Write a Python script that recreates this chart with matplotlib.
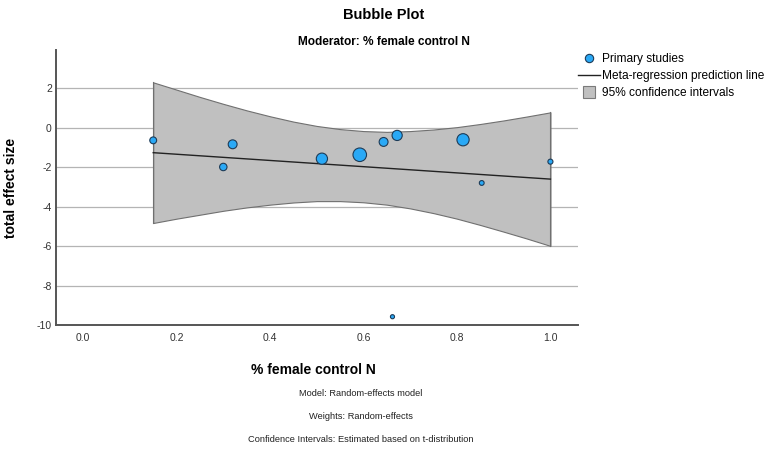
import numpy as np
import matplotlib
matplotlib.use('Agg')
import matplotlib.pyplot as plt
from matplotlib.lines import Line2D

plt.rcParams['font.family'] = ['Liberation Sans', 'DejaVu Sans']
plt.rcParams['axes.unicode_minus'] = False

# primary studies: moderator, effect size, relative weight (%)
female_ratio = [0.15, 0.30, 0.32, 0.511, 0.592, 0.643, 0.672, 0.813, 0.853, 1.0, 0.662]
effect_size = [-0.64, -1.99, -0.84, -1.57, -1.37, -0.72, -0.39, -0.61, -2.80, -1.72, -9.58]
weight_pct = [5.3, 6.2, 8.9, 14.2, 20.7, 8.9, 11.7, 16.8, 2.6, 2.9, 1.9]

# prediction line and confidence band
band_x = [0.15, 0.20, 0.25, 0.30, 0.35, 0.40, 0.45, 0.50, 0.55, 0.60,
          0.65, 0.70, 0.75, 0.80, 0.85, 0.90, 0.95, 1.00]
band_upper = [2.30, 1.93, 1.56, 1.21, 0.88, 0.58, 0.31, 0.09, -0.07, -0.17,
              -0.21, -0.17, -0.09, 0.03, 0.19, 0.37, 0.57, 0.78]
band_lower = [-4.83, -4.61, -4.41, -4.21, -4.04, -3.90, -3.79, -3.72, -3.72, -3.78,
              -3.90, -4.09, -4.33, -4.61, -4.93, -5.27, -5.62, -5.99]
line_x = [0.15, 1.0]
line_y = [-1.265, -2.605]

x_ticks = [0.0, 0.2, 0.4, 0.6, 0.8, 1.0]
y_ticks = [2, 0, -2, -4, -6, -8, -10]

bubble_color = '#2aa9f6'
bubble_edge = '#1d3b57'

fig = plt.figure(figsize=(7.67, 4.53), dpi=100)
ax = fig.add_axes([56 / 767, 1 - 325 / 453, (578 - 56) / 767, (325 - 50) / 453])

for y in y_ticks[:-1]:
    ax.axhline(y, color='#b4b4b4', lw=0.9, zorder=0)

ax.fill_between(band_x, band_lower, band_upper, facecolor='#c0c0c0',
                edgecolor='#707070', lw=0.8, zorder=1)
ax.plot([band_x[0], band_x[0]], [band_lower[0], band_upper[0]], color='#707070', lw=0.8, zorder=1)
ax.plot([band_x[-1], band_x[-1]], [band_lower[-1], band_upper[-1]], color='#707070', lw=0.8, zorder=1)
ax.plot(line_x, line_y, color='#222222', lw=1.0, zorder=2)

sizes = np.array(weight_pct) * 4.6
ax.scatter(female_ratio, effect_size, s=sizes, color=bubble_color,
           edgecolors=bubble_edge, linewidths=0.8, zorder=3)

ax.set_xlim(-0.058, 1.059)
ax.set_ylim(-10, 3.94)
ax.set_xticks(x_ticks)
ax.set_xticklabels([f'{v:.1f}' for v in x_ticks])
ax.set_yticks(y_ticks)
ax.tick_params(length=0, labelsize=7.5, labelcolor='#333333')
ax.tick_params(axis='y', pad=3)
ax.tick_params(axis='x', pad=6)

for side in ['top', 'right']:
    ax.spines[side].set_visible(False)
for side in ['left', 'bottom']:
    ax.spines[side].set_color('#555555')
    ax.spines[side].set_linewidth(1.4)

ax.set_xlabel('% female control N', fontsize=10, fontweight='bold')
ax.set_ylabel('total effect size', fontsize=10, fontweight='bold')
ax.xaxis.set_label_coords((313 - 56) / 522, (325 - 363) / 275)
ax.yaxis.set_label_coords((18 - 56) / 522, 0.5)

fig.text(383.5 / 767, 1 - 15 / 453, 'Bubble Plot', ha='center', va='center',
         fontsize=10.5, fontweight='bold')
fig.text(384 / 767, 1 - 42 / 453, 'Moderator: % female control N', ha='center',
         va='center', fontsize=8.6, fontweight='bold')

notes = ['Model: Random-effects model',
         'Weights: Random-effects',
         'Confidence Intervals: Estimated based on t-distribution']
for i, note in enumerate(notes):
    fig.text(361 / 767, 1 - (393 + 23.5 * i) / 453, note, ha='center', va='center',
             fontsize=6.7, color='#222222')

handles = [
    Line2D([], [], marker='o', linestyle='none', markersize=6,
           markerfacecolor=bubble_color, markeredgecolor=bubble_edge, markeredgewidth=0.8),
    Line2D([], [], color='#222222', lw=1.0),
    Line2D([], [], marker='s', linestyle='none', markersize=8.5,
           markerfacecolor='#c0c0c0', markeredgecolor='#7a7a7a', markeredgewidth=0.8),
]
labels = ['Primary studies', 'Meta-regression prediction line', '95% confidence intervals']
fig.legend(handles, labels, loc='upper left', bbox_to_anchor=(578 / 767, 1 - 53 / 453),
           frameon=False, fontsize=8.6, handlelength=1.8, handletextpad=0.2,
           labelspacing=0.42, borderaxespad=0, borderpad=0)

fig.savefig('out.png', dpi=100)
